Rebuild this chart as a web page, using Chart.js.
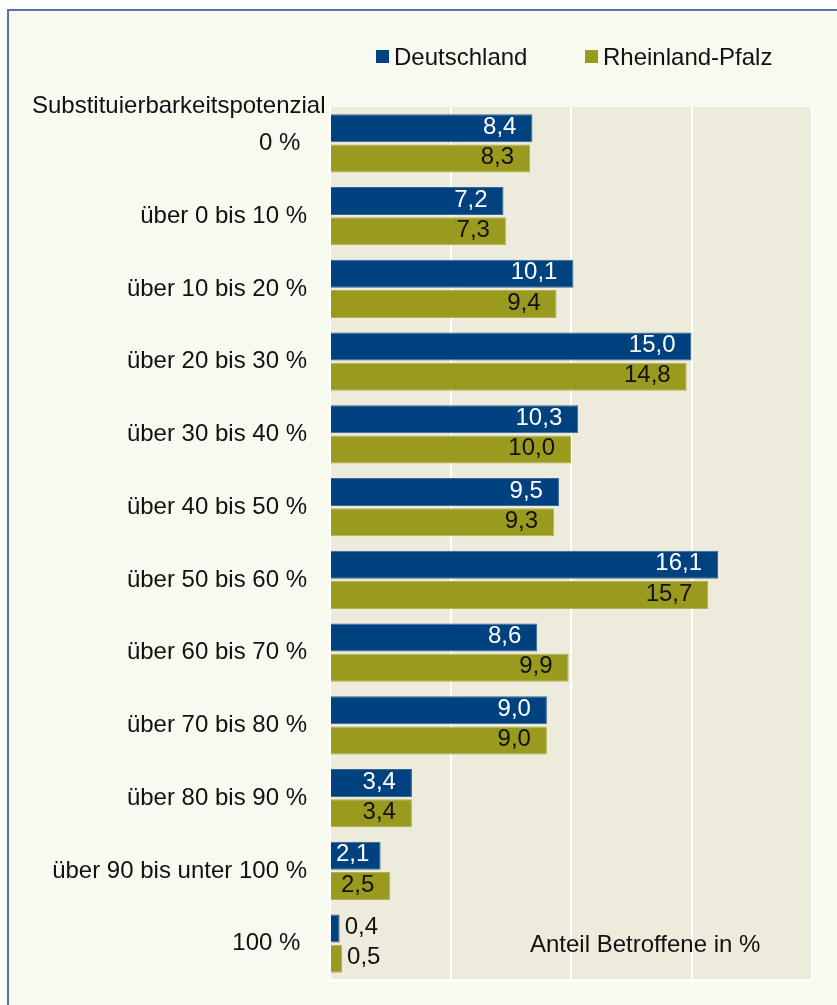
<!DOCTYPE html>
<html lang="de">
<head>
<meta charset="utf-8">
<title>Substituierbarkeitspotenzial</title>
<script src="https://cdn.jsdelivr.net/npm/chart.js@4/dist/chart.umd.min.js"></script>
<style>
    body { margin: 0; background: #ffffff; overflow: hidden; }
    .rahmen {
        position: absolute; left: 7px; top: 9px;
        width: 900px; height: 1100px;
        border: 2px solid #5571ae;
        background: #f8f9ef;
    }
    #substChart { position: absolute; left: 0; top: 0; }
</style>
</head>
<body>
<div class="rahmen"></div>
<canvas id="substChart" width="837" height="1005"></canvas>
<script>
// Anteil Betroffene nach Substituierbarkeitspotenzial
const kategorien = ['0 % ', 'über 0 bis 10 %', 'über 10 bis 20 %', 'über 20 bis 30 %', 'über 30 bis 40 %',
    'über 40 bis 50 %', 'über 50 bis 60 %', 'über 60 bis 70 %', 'über 70 bis 80 %', 'über 80 bis 90 %',
    'über 90 bis unter 100 %', '100 % '];
const deutschland = [8.4, 7.2, 10.1, 15.0, 10.3, 9.5, 16.1, 8.6, 9.0, 3.4, 2.1, 0.4];
const rheinlandPfalz = [8.3, 7.3, 9.4, 14.8, 10.0, 9.3, 15.7, 9.9, 9.0, 3.4, 2.5, 0.5];
const achsenTicks = [0, 5, 10, 15, 20];

const schrift = "'Liberation Sans', Arial, sans-serif";

// Legende, Texte und Werte selbst zeichnen
const beschriftung = {
    id: 'beschriftung',
    beforeDraw(chart) {
        const { ctx, chartArea: a } = chart;
        ctx.save();
        ctx.fillStyle = '#edebdc';
        ctx.fillRect(a.left, a.top, a.right - a.left, a.bottom - a.top);
        ctx.restore();
    },
    afterDraw(chart) {
        const ctx = chart.ctx;
        ctx.save();
        ctx.font = '24px ' + schrift;
        ctx.textBaseline = 'alphabetic';
        ctx.textAlign = 'left';

        // Legende
        const legX = [376, 585];
        chart.data.datasets.forEach((ds, i) => {
            ctx.fillStyle = ds.backgroundColor;
            ctx.fillRect(legX[i], 50, 13, 13);
            ctx.fillStyle = '#111';
            ctx.fillText(ds.label, legX[i] + 18, 65);
        });

        ctx.fillText('Substituierbarkeitspotenzial', 32, 113);
        ctx.fillText('Anteil Betroffene in %', 530, 952);

        // Datenwerte
        ctx.textBaseline = 'middle';
        chart.data.datasets.forEach((ds, i) => {
            const meta = chart.getDatasetMeta(i);
            meta.data.forEach((bar, j) => {
                const txt = ds.data[j].toFixed(1).replace('.', ',');
                const w = ctx.measureText(txt).width;
                const breite = bar.x - bar.base;
                let x;
                if (breite < w + 10) {
                    ctx.fillStyle = '#111';
                    x = bar.x + 5;
                } else {
                    ctx.fillStyle = i === 0 ? '#ffffff' : '#111';
                    x = Math.max(bar.x - 16 - w, bar.base + 5);
                }
                ctx.fillText(txt, x, bar.y - 1);
            });
        });
        ctx.restore();
    }
};

new Chart(document.getElementById('substChart'), {
    type: 'bar',
    data: {
        labels: kategorien,
        datasets: [{
            label: 'Deutschland',
            data: deutschland,
            backgroundColor: '#00417f',
            borderColor: '#3a6694',
            borderWidth: 1,
            categoryPercentage: 0.825,
            barPercentage: 0.933
        }, {
            label: 'Rheinland-Pfalz',
            data: rheinlandPfalz,
            backgroundColor: '#9a9a1f',
            borderColor: '#b2b253',
            borderWidth: 1,
            categoryPercentage: 0.825,
            barPercentage: 0.933
        }]
    },
    options: {
        indexAxis: 'y',
        responsive: false,
        animation: false,
        devicePixelRatio: 1,
        layout: {
            padding: { left: 0, right: 25, top: 107, bottom: 25 }
        },
        plugins: {
            legend: { display: false },
            tooltip: { enabled: false }
        },
        scales: {
            x: {
                min: achsenTicks[0],
                max: achsenTicks[achsenTicks.length - 1],
                afterBuildTicks(scale) {
                    scale.ticks = achsenTicks.map(v => ({ value: v }));
                },
                afterFit(scale) {
                    scale.height = 0;
                },
                ticks: { display: false },
                grid: {
                    color: '#ffffff',
                    lineWidth: 2,
                    drawTicks: false
                },
                border: { color: '#ffffff', width: 3 }
            },
            y: {
                afterFit(scale) {
                    scale.width = 330;
                    scale.paddingTop = 0;
                    scale.paddingBottom = 0;
                },
                ticks: {
                    color: '#111111',
                    padding: 23,
                    font: {
                        family: schrift,
                        size: 24
                    }
                },
                grid: { display: false, drawTicks: false },
                border: { color: '#ffffff', width: 2 }
            }
        }
    },
    plugins: [beschriftung]
});
</script>
</body>
</html>
